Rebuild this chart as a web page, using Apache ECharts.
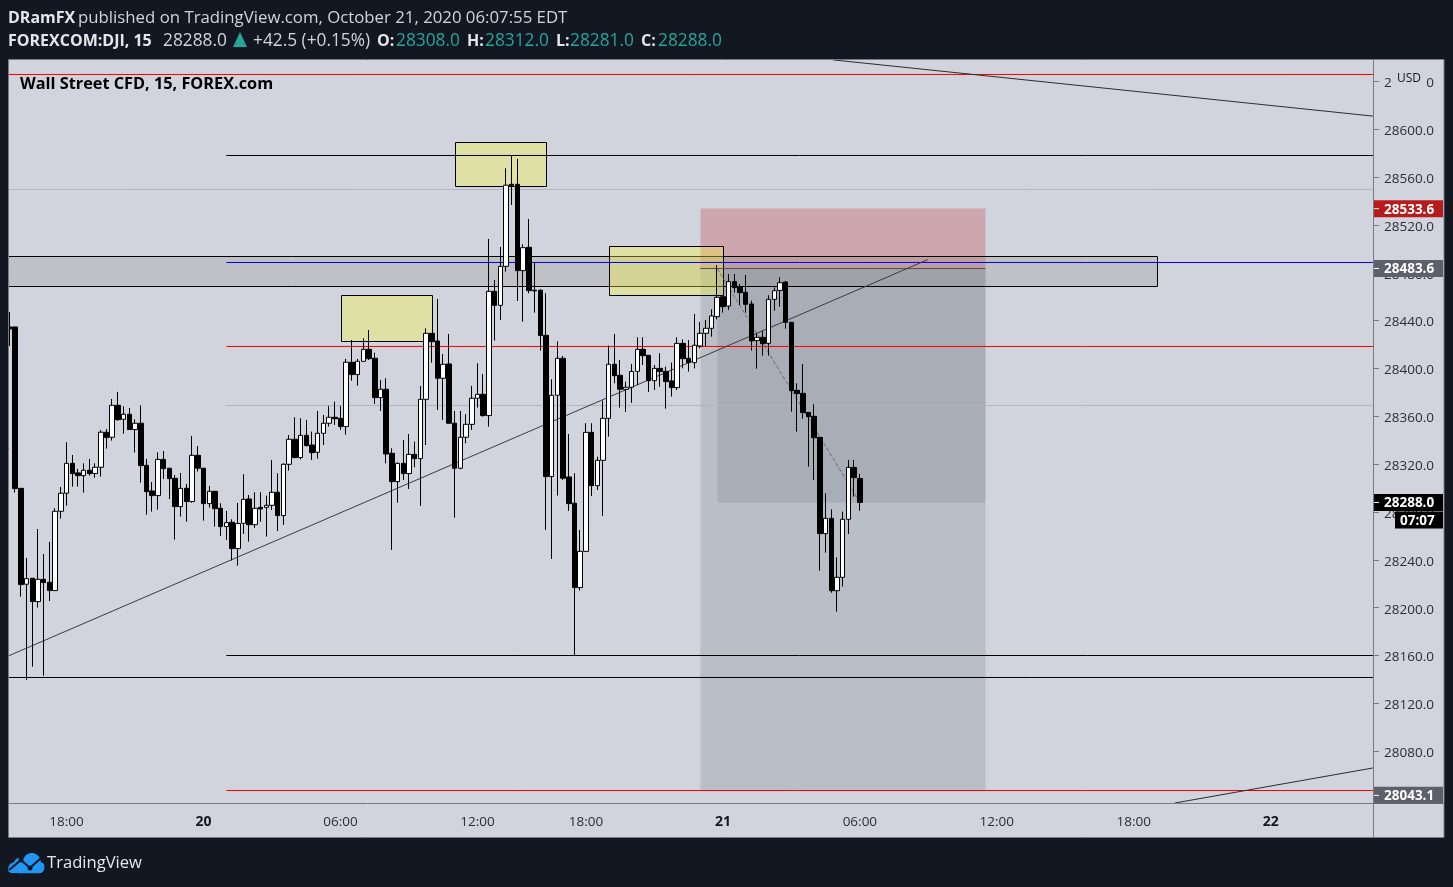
<!DOCTYPE html>
<html>
<head>
<meta charset="utf-8">
<title>FOREXCOM:DJI, 15</title>
<script src="https://cdn.jsdelivr.net/npm/echarts@6/dist/echarts.min.js"></script>
<style>
  html, body { margin: 0; padding: 0; background: #131722; }
  #chart { width: 1453px; height: 887px; }
</style>
</head>
<body>
<div id="chart"></div>
<script>
// 15 minute bars
var opens = [28434.7,28434.7,28299.8,28219.6,28224.6,28205.1,28223.7,28221.2,28214.3,28280.6,
  28295.7,28320.7,28312.7,28310.4,28314.9,28312.1,28317.4,28346.7,28342.5,28369.2,
  28357.5,28361.7,28348.9,28354.2,28319.0,28297.6,28293.7,28324.0,28316.6,28308.2,
  28284.5,28299.8,28288.7,28327.4,28316.6,28287.0,28297.3,28283.1,28267.8,28271.4,
  28249.4,28270.6,28290.9,28269.4,28283.9,28283.9,28285.6,28296.5,28277.0,28319.9,
  28340.8,28325.5,28344.1,28336.0,28329.9,28345.8,28354.2,28359.2,28358.3,28351.4,
  28405.2,28394.9,28406.0,28416.0,28408.5,28375.6,28382.6,28329.1,28305.4,28320.7,
  28312.1,28328.2,28324.6,28374.2,28429.4,28423.0,28391.8,28403.8,28354.2,28316.6,
  28342.5,28353.3,28375.1,28378.4,28360.6,28464.5,28452.8,28485.4,28554.0,28554.0,
  28481.8,28501.3,28465.4,28465.4,28427.7,28309.6,28377.6,28408.5,28309.3,28287.3,
  28216.8,28247.1,28346.6,28302.0,28323.2,28358.3,28403.5,28394.3,28382.6,28384.3,
  28397.6,28416.0,28411.0,28389.8,28400.1,28397.6,28389.6,28384.0,28421.0,28408.5,
  28404.9,28418.8,28429.4,28433.6,28443.3,28460.0,28452.2,28472.6,28468.4,28463.7,
  28453.9,28423.3,28426.0,28421.0,28457.8,28465.3,28472.3,28438.6,28381.7,28379.2,
  28363.3,28360.0,28342.4,28261.9,28274.7,28214.2,28225.4,28273.9,28317.3,28308.0];
var closes = [28433.0,28299.6,28219.3,28224.3,28205.1,28223.7,28221.0,28214.3,28280.6,28295.7,
  28320.7,28312.1,28310.4,28314.9,28312.1,28317.4,28346.7,28342.2,28369.2,28357.2,
  28361.7,28348.9,28354.2,28318.8,28297.0,28293.7,28324.0,28316.3,28307.9,28284.5,
  28299.8,28288.7,28327.4,28316.6,28287.0,28297.3,28282.8,28267.8,28271.1,28249.4,
  28270.3,28290.6,28269.4,28283.1,28282.5,28285.6,28296.5,28277.0,28319.9,28340.8,
  28325.5,28344.1,28335.5,28329.6,28345.8,28354.2,28359.2,28358.0,28351.4,28405.2,
  28394.9,28406.0,28416.0,28408.2,28375.6,28382.6,28328.5,28305.4,28320.7,28312.1,
  28328.2,28324.6,28374.2,28429.4,28422.4,28391.8,28403.5,28354.2,28316.6,28342.5,
  28353.3,28375.1,28378.4,28360.6,28464.5,28452.8,28485.4,28553.2,28552.9,28481.8,
  28501.0,28465.1,28464.8,28427.5,28309.6,28377.6,28408.5,28308.2,28287.0,28216.8,
  28247.1,28346.6,28302.0,28323.2,28358.3,28403.5,28394.0,28382.6,28384.3,28397.4,
  28416.0,28410.7,28389.8,28400.1,28397.4,28389.0,28384.0,28421.0,28408.2,28404.9,
  28419.4,28429.4,28433.6,28443.9,28459.5,28451.7,28472.6,28467.6,28463.4,28453.6,
  28423.0,28426.0,28420.7,28457.8,28465.0,28471.7,28438.6,28381.4,28379.0,28363.1,
  28359.7,28342.1,28261.9,28274.7,28214.2,28225.4,28273.9,28317.3,28308.7,28288.0];
var lows = [28418.8,28296.2,28209.2,28139.6,28150.7,28200.1,28143.2,28205.6,28214.0,28274.5,
  28285.3,28301.2,28301.2,28296.2,28310.4,28308.7,28309.6,28333.0,28339.7,28356.4,
  28345.5,28348.9,28329.7,28304.6,28277.8,28280.3,28282.0,28307.6,28290.9,28256.9,
  28276.2,28272.0,28287.8,28313.8,28272.8,28283.7,28267.8,28260.0,28256.6,28239.4,
  28235.2,28261.6,28255.2,28266.7,28271.9,28259.4,28281.7,28264.1,28269.2,28314.6,
  28324.9,28324.0,28334.7,28323.5,28324.6,28336.0,28351.4,28352.8,28348.6,28344.7,
  28389.8,28385.7,28405.7,28407.1,28370.3,28364.5,28320.7,28248.3,28287.8,28306.8,
  28299.3,28317.4,28285.0,28336.0,28404.9,28365.3,28357.0,28354.2,28275.3,28315.7,
  28337.4,28348.6,28367.3,28359.7,28351.4,28423.3,28440.6,28481.0,28536.7,28456.4,
  28439.2,28462.9,28446.7,28414.9,28265.0,28240.7,28293.7,28306.8,28280.9,28160.5,
  28214.3,28247.1,28293.4,28298.4,28276.7,28343.0,28387.6,28367.3,28363.6,28371.2,
  28386.2,28402.9,28380.4,28382.0,28384.8,28366.4,28376.5,28382.0,28400.1,28397.4,
  28400.1,28416.8,28418.8,28426.6,28441.1,28446.7,28448.9,28463.4,28453.1,28446.7,
  28414.9,28399.8,28410.7,28410.7,28448.3,28451.7,28433.3,28363.9,28347.2,28358.0,
  28317.9,28306.8,28230.9,28246.0,28212.5,28196.7,28217.6,28261.6,28292.8,28281.0];
var highs = [28447.3,28434.7,28299.8,28241.6,28224.6,28265.8,28244.9,28255.0,28283.1,28301.0,
  28338.3,28327.7,28316.0,28320.7,28324.4,28320.7,28348.6,28349.4,28374.5,28380.4,
  28368.4,28367.0,28357.5,28369.2,28324.4,28305.1,28329.9,28331.0,28316.6,28311.0,
  28312.6,28303.5,28343.6,28335.2,28316.6,28301.8,28297.3,28287.3,28280.9,28273.9,
  28287.6,28311.5,28294.2,28296.5,28296.5,28293.7,28323.5,28312.4,28320.7,28344.4,
  28359.2,28358.3,28357.0,28347.2,28364.5,28361.1,28368.7,28372.3,28368.7,28408.0,
  28423.8,28408.0,28425.2,28432.2,28413.2,28390.4,28391.8,28333.3,28321.3,28340.2,
  28345.2,28338.8,28385.4,28433.6,28429.4,28458.1,28412.1,28428.9,28364.5,28364.5,
  28361.7,28385.4,28404.3,28395.4,28508.3,28474.0,28501.6,28567.4,28578.0,28575.2,
  28503.8,28525.0,28488.5,28466.2,28462.9,28391.0,28422.7,28410.5,28345.2,28312.4,
  28265.0,28354.2,28354.2,28326.3,28373.1,28419.1,28428.9,28407.1,28389.0,28403.8,
  28426.1,28426.1,28411.3,28402.9,28412.7,28401.5,28404.9,28426.1,28424.4,28423.8,
  28445.6,28438.9,28440.5,28449.5,28486.5,28460.0,28479.0,28479.0,28470.6,28478.2,
  28456.7,28429.4,28431.3,28461.2,28467.8,28476.2,28473.1,28438.6,28387.6,28403.7,
  28363.3,28370.0,28342.4,28295.6,28282.2,28242.1,28280.3,28323.5,28323.5,28312.0];

var barCount = 240;
var tickBars = [10, 34, 58, 82, 101, 125, 149, 173, 197, 221];
var tickLabels = ['18:00', '20', '06:00', '12:00', '18:00', '21', '06:00', '12:00', '18:00', '22'];
var priceTicks = [28640, 28600, 28560, 28520, 28480, 28440, 28400, 28360, 28320, 28280, 28240, 28200, 28160, 28120, 28080];

// hand drawn levels, bar number + price
var leftEdge = -1, rightEdge = 238.9, anchorBar = 38;
var redLevels = [28047.15, 28418.37];
var redFullLevel = 28645.78;
var blackLevels = [28578.06, 28160.02];
var blackFullLevel = 28141.63;
var greyFullLevel = 28549.63;
var greyLevel = 28369.04;
var blueLevel = 28488.6;
var entryPrice = 28483.58, stopPrice = 28534.2, targetPrice = 28047.15;
var riskFrom = 121, riskTo = 171, fillFrom = 124, lastClose = 28288;
var trendUp = [[-1, 28158], [160.9, 28491]];
var trendTop = [[144.3, 28658], [238.9, 28611]];
var trendBottom = [[204.2, 28036.7], [238.9, 28066]];
var dashedPath = [[124, 28483.6], [149, 28288]];
var band = [[-1, 28493.61, 201.1, 28468.53]];
var yellowBoxes = [[78, 28589.4, 94, 28552.6], [58, 28461.4, 74, 28423], [105, 28502.4, 125, 28461.4]];

var tags = [28533.6, 28483.6, 28288.0, 28043.1];
var tagColors = ['#b71c1c', '#5d606b', '#000000', '#5d606b'];

var categories = [];
for (var i = 0; i < barCount; i++) categories.push(String(i));

var candleData = opens.map(function (o, i) { return [o, closes[i], lows[i], highs[i]]; });

var chart = echarts.init(document.getElementById('chart'));

function seg(points, color, width, type) {
  return {
    type: 'line', xAxisIndex: 1, yAxisIndex: 0, z: 4, silent: true, animation: false,
    showSymbol: false, symbol: 'none', data: points,
    lineStyle: { color: color, width: width || 1, type: type || 'solid' }
  };
}

function boxes(rows, fill, stroke, z) {
  return {
    type: 'custom', xAxisIndex: 1, yAxisIndex: 0, z: z, silent: true, animation: false,
    encode: { x: [0, 2], y: [1, 3] },
    data: rows,
    renderItem: function (params, api) {
      var a = api.coord([api.value(0), api.value(1)]);
      var b = api.coord([api.value(2), api.value(3)]);
      var x = Math.round(a[0] - 0.01) + 0.5, y = Math.round(a[1] - 0.01) + 0.5;
      return {
        type: 'rect',
        shape: { x: x, y: y, width: Math.round(b[0] - a[0]), height: Math.round(b[1] - a[1]) },
        style: { fill: fill, stroke: stroke || null, lineWidth: 1 }
      };
    }
  };
}

var series = [
  boxes([[riskFrom, stopPrice, riskTo, entryPrice]], 'rgba(200,60,70,0.3)', null, 1),
  boxes([[riskFrom, entryPrice, riskTo, targetPrice]], 'rgba(120,123,134,0.25)', null, 1),
  boxes([[fillFrom, entryPrice, riskTo, lastClose]], 'rgba(110,112,120,0.22)', null, 1),
  boxes(band, 'rgba(125,122,115,0.2)', '#000000', 2),
  boxes(yellowBoxes, 'rgba(250,245,60,0.35)', '#000000', 3)
];

redLevels.forEach(function (p) { series.push(seg([[anchorBar, p], [rightEdge, p]], '#ff0000')); });
series.push(seg([[leftEdge, redFullLevel], [rightEdge, redFullLevel]], '#ff0000'));
blackLevels.forEach(function (p) { series.push(seg([[anchorBar, p], [rightEdge, p]], '#000000')); });
series.push(seg([[leftEdge, blackFullLevel], [rightEdge, blackFullLevel]], '#000000'));
series.push(seg([[leftEdge, greyFullLevel], [rightEdge, greyFullLevel]], '#b2b5be'));
series.push(seg([[anchorBar, greyLevel], [rightEdge, greyLevel]], '#b2b5be'));
series.push(seg([[anchorBar, blueLevel], [rightEdge, blueLevel]], '#0000ff'));
series.push(seg([[riskFrom, entryPrice], [riskTo, entryPrice]], '#55565c'));
series.push(seg(trendUp, '#3a3a40'));
series.push(seg(trendTop, '#2c2c32'));
series.push(seg(trendBottom, '#2c2c32'));
series.push(seg(dashedPath, '#6a6c74', 1, 'dashed'));

series.push({
  type: 'candlestick', xAxisIndex: 0, yAxisIndex: 0, z: 6, silent: true, animation: false,
  barWidth: 5,
  data: candleData,
  itemStyle: { color: '#ffffff', color0: '#000000', borderColor: '#000000', borderColor0: '#000000', borderWidth: 1 }
});

var option = {
  backgroundColor: '#131722',
  animation: false,
  grid: { left: 6.65, top: 60, width: 1369.7, height: 743 },
  xAxis: [
    {
      type: 'category', data: categories, position: 'bottom',
      axisLine: { show: false },
      axisTick: {
        alignWithLabel: true, length: 4, lineStyle: { color: '#787b86' },
        interval: function (i) { return tickBars.indexOf(i) >= 0; }
      },
      axisLabel: {
        interval: function (i) { return tickBars.indexOf(i) >= 0; },
        hideOverlap: false, margin: 12, color: '#2a2e39', fontSize: 13.5, fontFamily: 'Open Sans',
        formatter: function (v) {
          var l = tickLabels[tickBars.indexOf(+v)] || '';
          return l.length < 3 ? '{day|' + l + '}' : l;
        },
        rich: { day: { fontWeight: 'bold', fontSize: 14, color: '#131722', fontFamily: 'Open Sans' } }
      },
      splitLine: { show: false }
    },
    { type: 'value', show: false, min: -0.5, max: 239.5, position: 'bottom' }
  ],
  yAxis: {
    type: 'value', position: 'right', offset: -3.3,
    min: 28036.7, max: 28657.9,
    axisLine: { show: false, onZero: false },
    splitLine: { show: false },
    axisTick: { show: true, length: 6, customValues: priceTicks, lineStyle: { color: '#787b86' } },
    axisLabel: {
      customValues: priceTicks, margin: 11, color: '#2a2e39', fontSize: 13.5, fontFamily: 'Open Sans',
      formatter: function (v) { return '{p|' + v.toFixed(1) + '}'; },
      rich: { p: { padding: [4, 0, 0, 0], fontSize: 13.5, color: '#2a2e39', fontFamily: 'Open Sans' } }
    }
  },
  series: series
};
chart.setOption(option);

// frame, header and price tags on top of the chart
var dark = '#131722', panel = '#d1d4dc', frame = '#787b86';
function label(x, y, text, color, size, weight, extra) {
  return Object.assign({
    type: 'text', x: x, y: y, z: 80,
    style: { text: text, fill: color, font: (weight || 'normal') + ' ' + size + 'px "Open Sans"', verticalAlign: 'middle' }
  }, extra || {});
}
function hline(x1, y1, x2, y2) {
  return { type: 'line', z: 60, shape: { x1: x1, y1: y1, x2: x2, y2: y2 }, style: { stroke: frame, lineWidth: 1 } };
}

var graphics = [
  { type: 'rect', z: -10, shape: { x: 9, y: 60, width: 1435, height: 777 }, style: { fill: panel } },
  { type: 'rect', z: 50, shape: { x: 0, y: 60, width: 9, height: 777 }, style: { fill: dark } },
  hline(8.5, 59.5, 1444, 59.5), hline(8.5, 59.5, 8.5, 837.5), hline(8.5, 837.5, 1444, 837.5),
  hline(1444, 59.5, 1444, 837.5), hline(9, 803.5, 1444, 803.5), hline(1373.5, 60, 1373.5, 837),
  { type: 'rect', z: 55, shape: { x: 1392, y: 68, width: 34, height: 22 }, style: { fill: panel } },
  label(1397, 79, 'USD', '#131722', 12, 'normal', { z: 56 }),
  label(20, 84, 'Wall Street CFD, 15, FOREX.com', '#000000', 16.3, 'bold'),
  label(8, 18, 'DRamFX', '#e4e6ec', 16, 'bold'),
  label(78, 18, 'published on TradingView.com, October 21, 2020 06:07:55 EDT', '#d1d4dc', 16.8),
  label(8, 41, 'FOREXCOM:DJI, 15', '#e4e6ec', 16, 'bold'),
  label(163, 41, '28288.0', '#d1d4dc', 17.3),
  { type: 'polygon', z: 80, shape: { points: [[240, 32], [233, 47], [247, 47]] }, style: { fill: '#26a69a' } },
  label(253, 41, '+42.5 (+0.15%)', '#d1d4dc', 17.3),
  label(377, 41, 'O:', '#e4e6ec', 16, 'bold'), label(396, 41, '28308.0', '#26a69a', 17.3),
  label(467, 41, 'H:', '#e4e6ec', 16, 'bold'), label(485, 41, '28312.0', '#26a69a', 17.3),
  label(556, 41, 'L:', '#e4e6ec', 16, 'bold'), label(570, 41, '28281.0', '#26a69a', 17.3),
  label(641, 41, 'C:', '#e4e6ec', 16, 'bold'), label(658, 41, '28288.0', '#26a69a', 17.3),
  {
    type: 'polygon', z: 80,
    shape: {
      smooth: 0.25,
      points: [[8, 869], [10, 864], [14, 862], [16, 859], [20, 858], [23, 859], [26, 855], [31, 853], [36, 854],
        [40, 858], [41, 862], [44, 864], [44, 870], [41, 873], [12, 873], [9, 872]]
    },
    style: { fill: '#2196f3' }
  },
  { type: 'polyline', z: 81, shape: { points: [[9, 870], [21, 860], [30, 868], [41, 858]] }, style: { stroke: dark, lineWidth: 2, fill: null } },
  { type: 'circle', z: 81, shape: { cx: 21, cy: 860, r: 2.5 }, style: { fill: dark } },
  { type: 'circle', z: 81, shape: { cx: 30, cy: 868, r: 2.5 }, style: { fill: dark } },
  label(47, 863, 'TradingView', '#e6e8ee', 16.6)
];

tags.forEach(function (p, i) {
  var y = chart.convertToPixel({ yAxisIndex: 0 }, p);
  graphics.push({ type: 'rect', z: 70, shape: { x: 1374, y: y - 8.5, width: 69, height: 17 }, style: { fill: tagColors[i] } });
  graphics.push({ type: 'line', z: 71, shape: { x1: 1374, y1: y, x2: 1379, y2: y }, style: { stroke: '#ffffff', lineWidth: 1 } });
  graphics.push(label(1384, y + 1, p.toFixed(1), '#ffffff', 13.5, 'bold', { z: 72 }));
});
var closeY = chart.convertToPixel({ yAxisIndex: 0 }, lastClose);
graphics.push({ type: 'rect', z: 70, shape: { x: 1395, y: closeY + 9, width: 48, height: 17 }, style: { fill: '#000000' } });
graphics.push(label(1400, closeY + 19, '07:07', '#ffffff', 13.5, 'bold', { z: 72 }));

chart.setOption({ graphic: graphics });
</script>
</body>
</html>
